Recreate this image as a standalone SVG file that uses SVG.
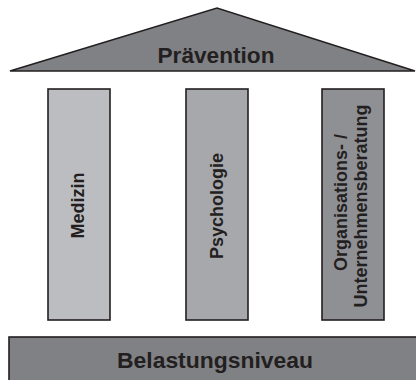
<svg xmlns="http://www.w3.org/2000/svg" width="416" height="380" viewBox="0 0 416 380">
<style>
.sh{stroke:#231f20;stroke-width:1.6}
.t{font-family:"Liberation Sans",Arial,sans-serif;font-weight:bold;fill:#231f20;text-anchor:middle}
</style>
<rect width="416" height="380" fill="#ffffff"/>
<g id="roof">
<polygon class="sh" points="10,71 217,8 415,71" fill="#808185" stroke-linejoin="miter"/>
<text class="t" x="216" y="63" font-size="22" textLength="117" lengthAdjust="spacingAndGlyphs">Prävention</text>
</g>
<g id="pillar-medizin">
<rect class="sh" x="48" y="89" width="62" height="231" fill="#bcbdc1"/>
<text class="t" font-size="18" transform="translate(84,205.5) rotate(-90)">Medizin</text>
</g>
<g id="pillar-psychologie">
<rect class="sh" x="186" y="89" width="62" height="231" fill="#a7a8ac"/>
<text class="t" font-size="18" transform="translate(223,206) rotate(-90)">Psychologie</text>
</g>
<g id="pillar-organisation">
<rect class="sh" x="322" y="89" width="62" height="231" fill="#8f9094"/>
<text class="t" font-size="18" transform="translate(347,202.5) rotate(-90)">Organisations- /</text>
<text class="t" font-size="18" transform="translate(367,206) rotate(-90)">Unternehmensberatung</text>
</g>
<g id="base">
<rect class="sh" x="9" y="337" width="420" height="60" fill="#808185"/>
<text class="t" x="215" y="368" font-size="22" textLength="196" lengthAdjust="spacingAndGlyphs">Belastungsniveau</text>
</g>
<g id="connectors"></g>
</svg>
